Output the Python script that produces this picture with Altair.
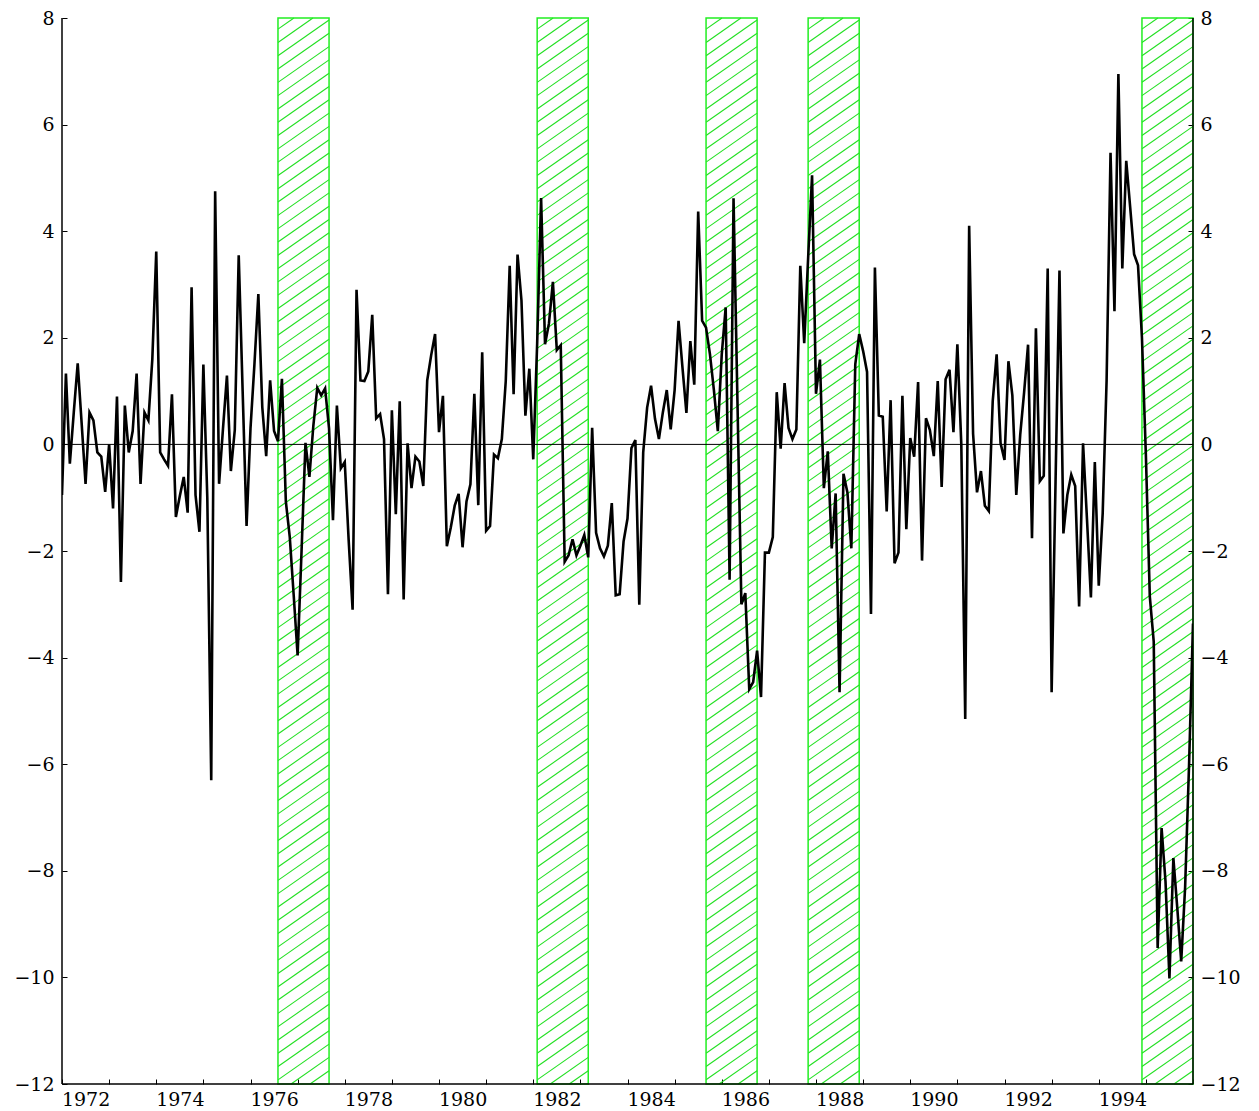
import altair as alt
import pandas as pd

# ---------------- data ----------------
start_year = 1972          # first observation (monthly series)
values = [
    # 1972
    -0.95, 1.33, -0.36, 0.6, 1.52, 0.4, -0.74, 0.6, 0.45, -0.15, -0.23, -0.89,
    # 1973
    0.0, -1.2, 0.9, -2.58, 0.73, -0.15, 0.25, 1.33, -0.74, 0.6, 0.45, 1.6,
    # 1974
    3.62, -0.15, -0.28, -0.4, 0.94, -1.36, -0.97, -0.61, -1.28, 2.95, -0.95, -1.64,
    # 1975
    1.5, -1.0, -6.3, 4.75, -0.74, 0.3, 1.29, -0.5, 0.27, 3.55, 1.0, -1.53,
    # 1976
    0.3, 1.5, 2.82, 0.7, -0.22, 1.2, 0.25, 0.06, 1.23, -1.07, -1.74, -2.83,
    # 1977
    -3.96, -2.0, 0.03, -0.61, 0.35, 1.06, 0.92, 1.05, 0.3, -1.42, 0.73, -0.45,
    # 1978
    -0.33, -1.8, -3.1, 2.9, 1.2, 1.19, 1.37, 2.43, 0.49, 0.57, 0.1, -2.81,
    # 1979
    0.64, -1.31, 0.81, -2.91, 0.02, -0.82, -0.23, -0.32, -0.78, 1.2, 1.67, 2.07,
    # 1980
    0.23, 0.91, -1.91, -1.56, -1.15, -0.93, -1.93, -1.07, -0.75, 0.95, -1.14, 1.73,
    # 1981
    -1.62, -1.53, -0.19, -0.26, 0.1, 1.19, 3.35, 0.94, 3.56, 2.7, 0.54, 1.42,
    # 1982
    -0.28, 1.9, 4.62, 1.88, 2.27, 3.05, 1.77, 1.86, -2.2, -2.08, -1.78, -2.08,
    # 1983
    -1.9, -1.7, -2.12, 0.31, -1.66, -1.95, -2.1, -1.9, -1.1, -2.83, -2.81, -1.82,
    # 1984
    -1.39, -0.07, 0.08, -3.01, -0.15, 0.69, 1.1, 0.48, 0.1, 0.6, 1.02, 0.28,
    # 1985
    1.02, 2.32, 1.44, 0.59, 1.94, 1.12, 4.37, 2.32, 2.19, 1.69, 1.02, 0.25,
    # 1986
    1.69, 2.57, -2.54, 4.62, 0.8, -3.0, -2.79, -4.59, -4.46, -3.87, -4.74, -2.03,
    # 1987
    -2.03, -1.74, 0.98, -0.08, 1.15, 0.31, 0.1, 0.28, 3.35, 1.9, 3.5, 5.05,
    # 1988
    0.95, 1.59, -0.82, -0.13, -1.95, -0.92, -4.65, -0.55, -0.9, -1.95, 1.5, 2.07,
    # 1989
    1.75, 1.36, -3.18, 3.32, 0.54, 0.52, -1.26, 0.83, -2.23, -2.03, 0.91, -1.59,
    # 1990
    0.12, -0.23, 1.17, -2.18, 0.49, 0.27, -0.22, 1.19, -0.8, 1.22, 1.4, 0.23,
    # 1991
    1.88, 0.0, -5.15, 4.1, 0.2, -0.9, -0.5, -1.15, -1.25, 0.81, 1.69, 0.02,
    # 1992
    -0.29, 1.56, 0.92, -0.95, 0.18, 0.98, 1.87, -1.76, 2.18, -0.69, -0.59, 3.3,
    # 1993
    -4.65, -0.7, 3.26, -1.67, -0.95, -0.57, -0.78, -3.04, 0.02, -1.4, -2.87, -0.33,
    # 1994
    -2.65, -1.3, 1.2, 5.47, 2.5, 6.95, 3.3, 5.32, 4.45, 3.57, 3.36, 2.0,
    # 1995
    -0.2, -2.85, -3.7, -9.45, -7.2, -8.2, -10.02, -7.76, -8.7, -9.7, -8.3, -6.0,
    # 1996
    -3.36,
]

band_start = [1976.583, 1982.083, 1985.667, 1987.833, 1994.917]
band_end = [1977.667, 1983.167, 1986.75, 1988.917, 1996.0]

x_domain = [1972, 1996]
y_domain = [-12, 8]
y_tick_values = list(range(-12, 9, 2))
x_tick_values = list(range(1972, 1997))

# ---------------- layout / style ----------------
W, H = 1131, 1066
GREEN_HATCH = "#22e022"
GREEN_EDGE = "#22ee22"
FONT = "DejaVu Serif"
FSIZE = 19

series = pd.DataFrame({
    "t": [start_year + i / 12 for i in range(len(values))],
    "v": values,
})

bands = pd.DataFrame({
    "start": band_start, "end": band_end,
    "lo": [y_domain[0]] * len(band_start), "hi": [y_domain[1]] * len(band_start),
})

# diagonal hatch segments inside each band (decoration)
ppy = W / (x_domain[1] - x_domain[0])
ppu = H / (y_domain[1] - y_domain[0])
slope = 0.7      # pixel rise per pixel run
gap = 13.3       # vertical pixel gap between hatch lines
segs = []
for b0, b1 in zip(band_start, band_end):
    w = (b1 - b0) * ppy
    c = -slope * w
    while c < H:
        xs_ = max(0.0, -c / slope)
        xe_ = min(w, (H - c) / slope)
        if xe_ > xs_:
            segs.append({
                "x": b0 + xs_ / ppy, "x2": b0 + xe_ / ppy,
                "y": y_domain[0] + (c + slope * xs_) / ppu,
                "y2": y_domain[0] + (c + slope * xe_) / ppu,
            })
        c += gap
hatch_df = pd.DataFrame(segs)

xs = alt.Scale(domain=x_domain, nice=False, zero=False)
ys = alt.Scale(domain=y_domain, nice=False, zero=False)

x_axis = alt.Axis(
    values=x_tick_values, tickSize=5, offset=-5, domain=False, grid=False,
    labelExpr="(datum.value % 2 == 0 && datum.value < 1996) ? '' + datum.value : ''",
    labelOffset=ppy / 2, labelPadding=6, labelFlush=False, labelOverlap=False,
    title=None,
)
y_left_axis = alt.Axis(
    orient="left", values=y_tick_values, tickSize=5, offset=-5, domain=False,
    grid=False, labelPadding=8, labelFlush=False, labelOverlap=False, title=None,
)
y_right_axis = alt.Axis(
    orient="right", values=y_tick_values, tickSize=5, offset=-5, domain=False,
    grid=False, labelPadding=7, labelFlush=False, labelOverlap=False, title=None,
)

hatch = alt.Chart(hatch_df).mark_rule(color=GREEN_HATCH, strokeWidth=1.1).encode(
    x=alt.X("x:Q", scale=xs, axis=x_axis), x2="x2:Q",
    y=alt.Y("y:Q", scale=ys, axis=y_left_axis), y2="y2:Q",
)

band_edges = alt.Chart(bands).mark_rect(
    fillOpacity=0, stroke=GREEN_EDGE, strokeWidth=1.5
).encode(
    x=alt.X("start:Q", scale=xs, axis=x_axis), x2="end:Q",
    y=alt.Y("lo:Q", scale=ys, axis=y_left_axis), y2="hi:Q",
)

zero_line = alt.Chart(pd.DataFrame({"z": [0]})).mark_rule(
    color="black", strokeWidth=1
).encode(y=alt.Y("z:Q", scale=ys, axis=y_left_axis))

line = alt.Chart(series).mark_line(
    color="black", strokeWidth=2.6, clip=True
).encode(
    x=alt.X("t:Q", scale=xs, axis=x_axis),
    y=alt.Y("v:Q", scale=ys, axis=y_left_axis),
)

frame_v = pd.DataFrame({"x": x_domain, "lo": [y_domain[0]] * 2, "hi": [y_domain[1]] * 2})
frame_sides = alt.Chart(frame_v).mark_rule(color="black", strokeWidth=1.5).encode(
    x=alt.X("x:Q", scale=xs, axis=x_axis),
    y=alt.Y("lo:Q", scale=ys, axis=y_left_axis), y2="hi:Q",
)
frame_bottom = alt.Chart(pd.DataFrame({"b": [y_domain[0]]})).mark_rule(
    color="black", strokeWidth=1.5
).encode(y=alt.Y("b:Q", scale=ys, axis=y_left_axis))

right_axis_layer = alt.Chart(frame_v).mark_rule(opacity=0).encode(
    x=alt.X("x:Q", scale=xs, axis=x_axis),
    y=alt.Y("lo:Q", scale=ys, axis=y_right_axis), y2="hi:Q",
)

main = alt.layer(hatch, band_edges, zero_line, line, frame_sides, frame_bottom)

chart = alt.layer(main, right_axis_layer).resolve_scale(y="independent").properties(
    width=W, height=H,
    autosize=alt.AutoSizeParams(type="none"),
    padding={"left": 54, "top": 10, "right": 56, "bottom": 26},
    background="white",
).configure_view(stroke=None).configure_axis(
    labelFont=FONT, labelFontSize=FSIZE, labelColor="black",
    tickColor="black", tickWidth=1,
)

chart.save("out.html", embed_options={"renderer": "svg", "actions": False})
